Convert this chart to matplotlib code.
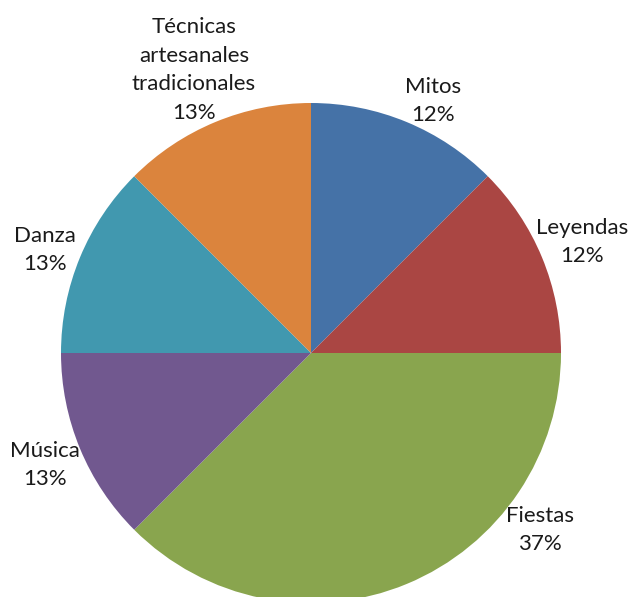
import matplotlib.pyplot as plt
import numpy as np

categories = ['Mitos', 'Leyendas', 'Fiestas', 'Música', 'Danza',
              'Técnicas\nartesanales\ntradicionales']
values = [1, 1, 3, 1, 1, 1]
pct_labels = ['12%', '12%', '37%', '13%', '13%', '13%']
colors = ['#4572A7', '#AA4643', '#89A54E', '#71588F', '#4198AF', '#DB843D']

# label placement (x, y in pie radius units), tuned to look like the original
label_pos = [(0.488, 1.008), (1.084, 0.444), (0.916, -0.708),
             (-1.064, -0.448), (-1.064, 0.412), (-0.468, 1.132)]

fig = plt.figure(figsize=(6.3, 5.97), dpi=100)
ax = fig.add_axes([0, 0, 1, 1])

ax.pie(values, colors=colors, startangle=90, counterclock=False,
       radius=1.0, center=(0, 0), frame=True)

for cat, pct, (x, y) in zip(categories, pct_labels, label_pos):
    ax.text(x, y, cat + '\n' + pct, ha='center', va='center',
            fontsize=16, family='Lato', linespacing=1.55, color='#1a1a1a')

ax.set_xlim(-311 / 250, (630 - 311) / 250)
ax.set_ylim(-244 / 250, 353 / 250)
ax.set_aspect('auto')
ax.axis('off')

fig.savefig('out.png', dpi=100)
